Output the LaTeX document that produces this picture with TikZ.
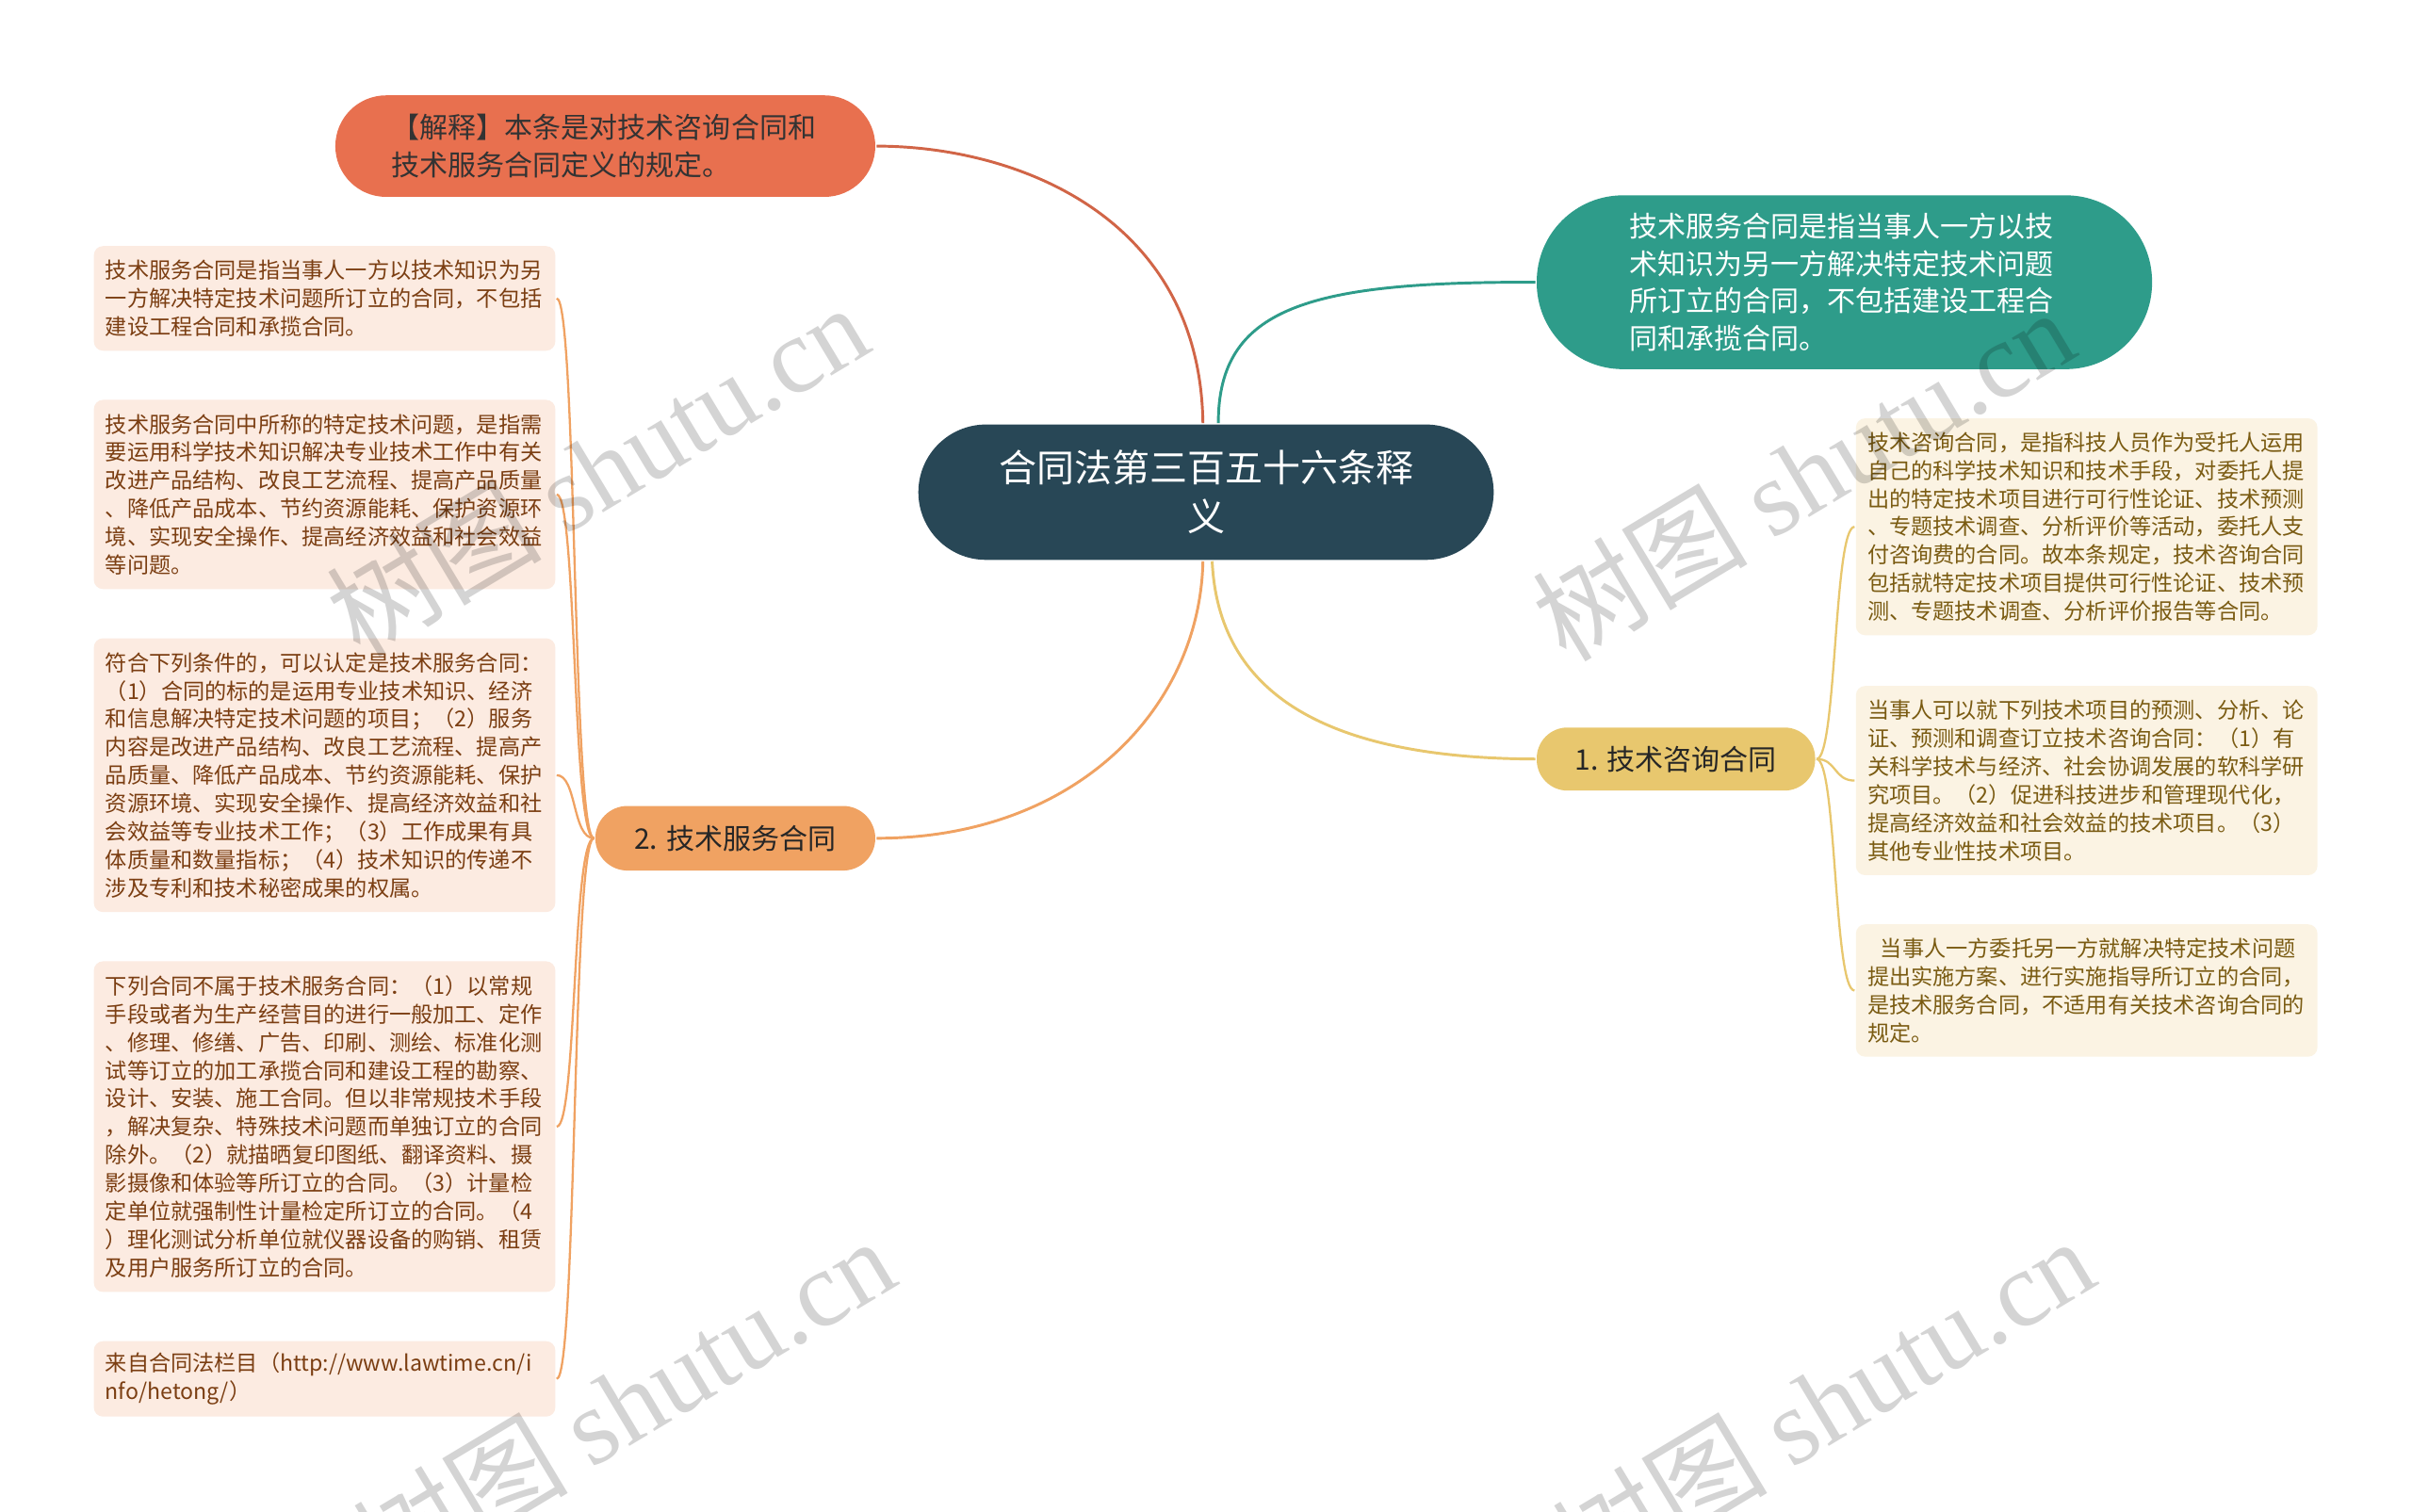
\documentclass[tikz,border=0pt]{standalone}
\usepackage{fontspec}
\setmainfont{Noto Sans CJK SC}
\newfontfamily\syfont{Liberation Serif}

\definecolor{zhuse}{HTML}{284756}
\definecolor{hongse}{HTML}{E8704F}
\definecolor{qingse}{HTML}{2E9C8A}
\definecolor{huangse}{HTML}{E8C76E}
\definecolor{chengse}{HTML}{F0A262}
\definecolor{zuodi}{HTML}{FCEBE1}
\definecolor{zuozi}{HTML}{7B3E12}
\definecolor{youdi}{HTML}{FBF3E3}
\definecolor{youzi}{HTML}{7A5B12}

\begin{document}
\begin{tikzpicture}[x=1pt, y=-1pt, line width=1.8pt,
    zhu/.style={fill=zhuse, text=white, rounded corners=44pt, inner sep=0pt, align=center,
      font=\fontsize{24.5}{32}\selectfont},
    pill/.style={inner sep=0pt, align=left, font=\fontsize{18.4}{24.3}\selectfont},
    zuoye/.style={fill=zuodi, text=zuozi, rounded corners=6pt, align=left, text width=285pt,
      inner xsep=7.5pt, inner ysep=0pt, minimum width=300pt, font=\fontsize{14.2}{18.3}\selectfont},
    youye/.style={zuoye, fill=youdi, text=youzi},
    shuiyin/.style={rotate=31, text=black, opacity=0.17, font=\fontsize{70}{70}\selectfont}]

    \fill[white] (0,0) rectangle (1568,983);
    \useasboundingbox (0,0) rectangle (1568,983);

    % 中心主题
    \node[zhu, minimum width=374pt, minimum height=88pt] (zhu) at (784,320) {合同法第三百五十六条释\\义};

    % 一级分支
    \node[pill, fill=hongse, text=black!80, rounded corners=33pt, minimum width=351pt, minimum height=66pt,
      text width=278pt] (jie) at (393.5,95) {【解释】本条是对技术咨询合同和\\技术服务合同定义的规定。};
    \node[pill, fill=qingse, text=white, rounded corners=56pt, minimum width=400pt, minimum height=113pt,
      text width=280pt] (dingyi) at (1199,183.5) {技术服务合同是指当事人一方以技\\术知识为另一方解决特定技术问题\\所订立的合同，不包括建设工程合\\同和承揽合同。};
    \node[pill, fill=huangse, text=black!85, rounded corners=20pt, minimum width=181pt, minimum height=41pt]
      (zixun) at (1089.5,493.5) {1. 技术咨询合同};
    \node[pill, fill=chengse, text=black!85, rounded corners=21pt, minimum width=182pt, minimum height=42pt]
      (fuwu) at (478,545) {2. 技术服务合同};

    % 左侧：技术服务合同
    \node[zuoye, minimum height=68pt] (z1) at (211,194) {技术服务合同是指当事人一方以技术知识为另\\一方解决特定技术问题所订立的合同，不包括\\建设工程合同和承揽合同。};
    \node[zuoye, minimum height=123pt] (z2) at (211,321.5) {技术服务合同中所称的特定技术问题，是指需\\要运用科学技术知识解决专业技术工作中有关\\改进产品结构、改良工艺流程、提高产品质量\\、降低产品成本、节约资源能耗、保护资源环\\境、实现安全操作、提高经济效益和社会效益\\等问题。};
    \node[zuoye, minimum height=178pt] (z3) at (211,504) {符合下列条件的，可以认定是技术服务合同：\\（1）合同的标的是运用专业技术知识、经济\\和信息解决特定技术问题的项目；（2）服务\\内容是改进产品结构、改良工艺流程、提高产\\品质量、降低产品成本、节约资源能耗、保护\\资源环境、实现安全操作、提高经济效益和社\\会效益等专业技术工作；（3）工作成果有具\\体质量和数量指标；（4）技术知识的传递不\\涉及专利和技术秘密成果的权属。};
    \node[zuoye, minimum height=215pt] (z4) at (211,732.5) {下列合同不属于技术服务合同：（1）以常规\\手段或者为生产经营目的进行一般加工、定作\\、修理、修缮、广告、印刷、测绘、标准化测\\试等订立的加工承揽合同和建设工程的勘察、\\设计、安装、施工合同。但以非常规技术手段\\，解决复杂、特殊技术问题而单独订立的合同\\除外。（2）就描晒复印图纸、翻译资料、摄\\影摄像和体验等所订立的合同。（3）计量检\\定单位就强制性计量检定所订立的合同。（4\\）理化测试分析单位就仪器设备的购销、租赁\\及用户服务所订立的合同。};
    \node[zuoye, minimum height=49pt] (z5) at (211,896.5) {来自合同法栏目（http://www.lawtime.cn/i\\nfo/hetong/）};

    % 右侧：技术咨询合同
    \node[youye, minimum height=141pt] (y1) at (1356.5,342.5) {技术咨询合同，是指科技人员作为受托人运用\\自己的科学技术知识和技术手段，对委托人提\\出的特定技术项目进行可行性论证、技术预测\\、专题技术调查、分析评价等活动，委托人支\\付咨询费的合同。故本条规定，技术咨询合同\\包括就特定技术项目提供可行性论证、技术预\\测、专题技术调查、分析评价报告等合同。};
    \node[youye, minimum height=123pt] (y2) at (1356.5,507.5) {当事人可以就下列技术项目的预测、分析、论\\证、预测和调查订立技术咨询合同：（1）有\\关科学技术与经济、社会协调发展的软科学研\\究项目。（2）促进科技进步和管理现代化，\\提高经济效益和社会效益的技术项目。（3）\\其他专业性技术项目。};
    \node[youye, minimum height=86pt] (y3) at (1356.5,644) {\hspace*{0.6em}当事人一方委托另一方就解决特定技术问题\\提出实施方案、进行实施指导所订立的合同，\\是技术服务合同，不适用有关技术咨询合同的\\规定。};

    % 主干连线
    \draw[color=hongse!90!black] ([xshift=-2pt]zhu.north) .. controls (780,140) and (660,95) .. (jie.east);
    \draw[color=qingse] ([xshift=8pt]zhu.north) .. controls (792,200) and (850,183) .. (dingyi.west);
    \draw[color=huangse] ([xshift=4pt]zhu.south) .. controls (792,450) and (860,493) .. (zixun.west);
    \draw[color=chengse] ([xshift=-2pt]zhu.south) .. controls (780,460) and (700,545) .. (fuwu.east);

    % 叶子连线
    \foreach \ye in {z1,z2,z3,z4,z5}
        \draw[color=chengse, line width=1.4pt] (fuwu.west) .. controls (372,545) and (375,0 |- \ye.east) .. (\ye.east);
    \foreach \ye in {y1,y2,y3}
        \draw[color=huangse, line width=1.4pt] (zixun.east) .. controls (1194,493.5) and (1192,0 |- \ye.west) .. (\ye.west);

    % 水印
    \foreach \wx/\wy [count=\i] in {388/305, 1172/308, 405/912, 1185/912}
        \node[shuiyin] (sy\i) at (\wx,\wy) {树图 {\syfont shutu.cn}};
\end{tikzpicture}
\end{document}
